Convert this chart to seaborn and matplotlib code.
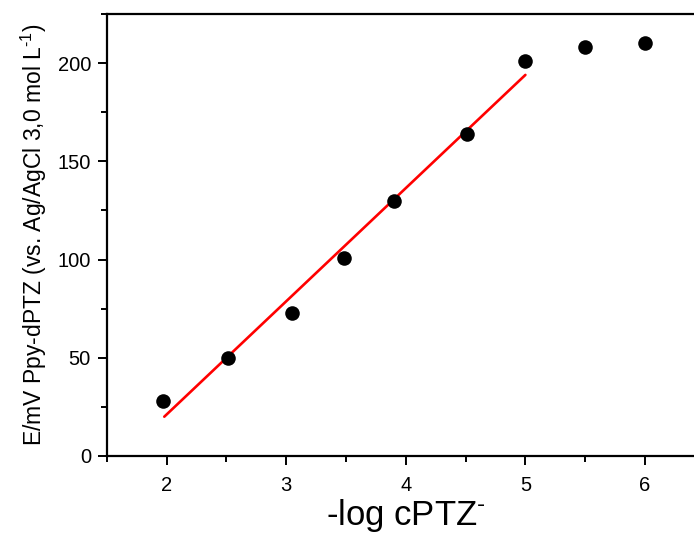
import matplotlib
matplotlib.use("Agg")
import matplotlib.pyplot as plt
import seaborn as sns
import pandas as pd
from matplotlib.ticker import MultipleLocator

# data
log_c = [1.97, 2.51, 3.05, 3.48, 3.90, 4.51, 5.00, 5.50, 6.00]
potential = [28, 50, 73, 101, 130, 164, 201, 208, 210]
fit_x = [1.98, 5.00]
fit_y = [20, 194]

sns.set_theme(style="ticks")
plt.rcParams['font.family'] = ['Liberation Sans', 'DejaVu Sans']
plt.rcParams['mathtext.fontset'] = 'custom'
plt.rcParams['mathtext.rm'] = 'Liberation Sans'
plt.rcParams['mathtext.it'] = 'Liberation Sans'
plt.rcParams['text.color'] = 'black'
plt.rcParams['axes.labelcolor'] = 'black'

fig = plt.figure(figsize=(6.94, 5.35), dpi=100)
ax = fig.add_axes([0.154, 0.1477, 0.8615, 0.8261])

df = pd.DataFrame({"x": log_c, "y": potential})
fit = pd.DataFrame({"x": fit_x, "y": fit_y})
sns.lineplot(data=fit, x="x", y="y", ax=ax, color="#ff0000", linewidth=1.9)
sns.scatterplot(data=df, x="x", y="y", ax=ax, color="black", s=110, edgecolor="black", linewidth=0, zorder=3)

ax.set_xlim(1.5, 6.5)
ax.set_ylim(0, 225)
ax.xaxis.set_major_locator(MultipleLocator(1))
ax.xaxis.set_minor_locator(MultipleLocator(0.5))
ax.yaxis.set_major_locator(MultipleLocator(50))
ax.yaxis.set_minor_locator(MultipleLocator(25))
ax.tick_params(which='major', direction='out', length=6.5, width=1.4, labelsize=14.5, color='black', labelcolor='black')
ax.tick_params(axis='x', which='major', pad=8)
ax.tick_params(axis='y', which='major', pad=5)
ax.tick_params(which='minor', direction='out', length=4, width=1.4, color='black')
for s in ax.spines.values():
    s.set_linewidth(1.6)
    s.set_color('black')

ax.set_xlabel("-log cPTZ$^{\\text{-}}$", fontsize=25, labelpad=1)
ax.set_ylabel("E/mV Ppy-dPTZ (vs. Ag/AgCl 3,0 mol L$^{\\text{-1}}$)", fontsize=16.5, labelpad=6)

fig.savefig("out.png", dpi=100)
